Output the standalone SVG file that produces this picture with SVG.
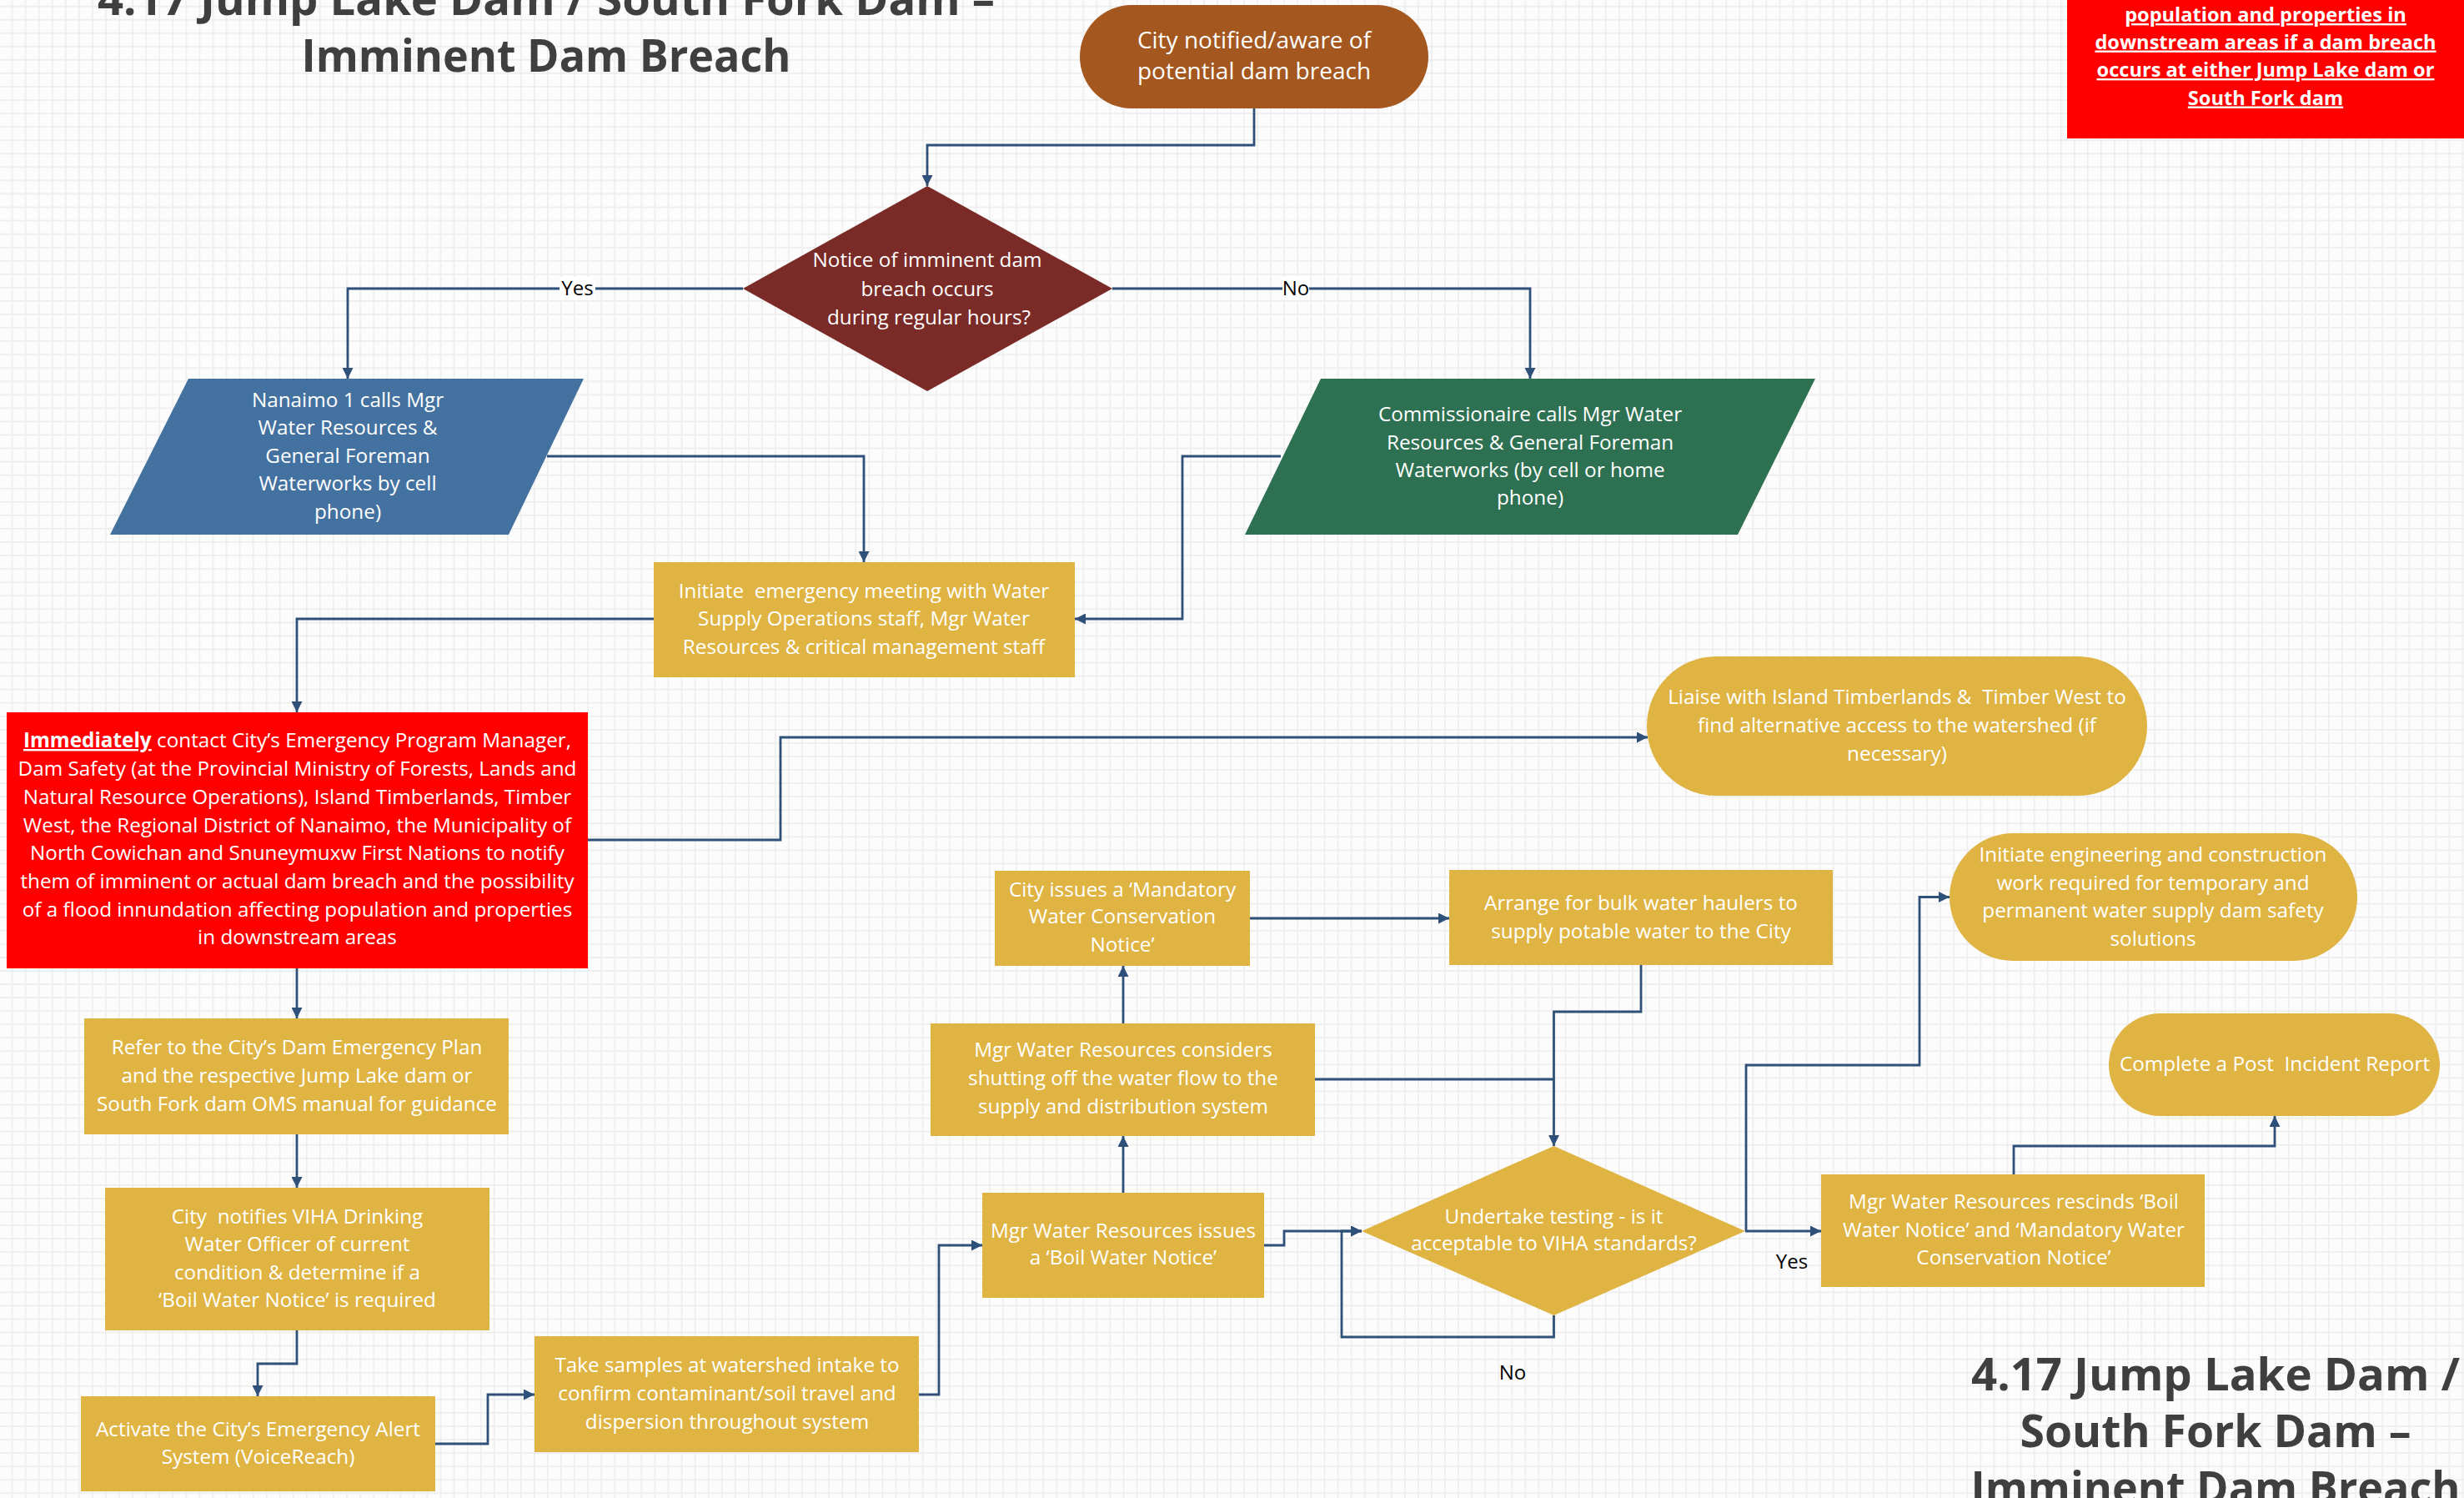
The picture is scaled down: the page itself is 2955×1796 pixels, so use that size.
<svg xmlns="http://www.w3.org/2000/svg" width="2955" height="1796" viewBox="0 0 2955 1796">
<style>
.t{font-family:"Open Sans","Noto Sans",sans-serif;font-size:24.3px;fill:#ffffff;text-anchor:middle;white-space:pre}
.big{font-size:28px}
.title{font-family:"Open Sans","Noto Sans",sans-serif;font-size:54px;font-weight:bold;fill:#3f3f3f;text-anchor:middle}
.warn{font-family:"Open Sans","Noto Sans",sans-serif;font-size:23.6px;font-weight:bold;fill:#ffffff;text-anchor:middle;text-decoration:underline}
.lbl{font-family:"Open Sans","Noto Sans",sans-serif;font-size:24px;fill:#000000;text-anchor:middle}
.gold{fill:#DFB443}
.red{fill:#FF0000}
.c{fill:none;stroke:#2F5078;stroke-width:2.8}
.ca{fill:none;stroke:#2F5078;stroke-width:2.8;marker-end:url(#arr)}
</style>
<defs>
<pattern id="grid" width="16.06" height="16.06" patternUnits="userSpaceOnUse" x="13.7" y="6.7">
<path d="M0,0.75 H16.06 M0.75,0 V16.06" fill="none" stroke="#ededed" stroke-width="1.6"/>
</pattern>
<marker id="arr" viewBox="0 0 13 13" markerWidth="13" markerHeight="13" refX="13" refY="6.5" orient="auto" markerUnits="userSpaceOnUse">
<path d="M0,0 L13,6.5 L0,13 z" fill="#2F5078"/>
</marker>
</defs>
<rect width="2955" height="1796" fill="#fcfcfc"/>
<rect width="2955" height="1796" fill="url(#grid)"/>

<g id="title-top">
<text class="title" x="655" y="18" textLength="1076" lengthAdjust="spacingAndGlyphs">4.17 Jump Lake Dam / South Fork Dam –</text>
<text class="title" x="655" y="86" textLength="587" lengthAdjust="spacingAndGlyphs">Imminent Dam Breach</text>
</g>
<g id="title-bottom">
<text class="title" x="2657" y="1667" textLength="586" lengthAdjust="spacingAndGlyphs">4.17 Jump Lake Dam /</text>
<text class="title" x="2657" y="1735" textLength="469" lengthAdjust="spacingAndGlyphs">South Fork Dam –</text>
<text class="title" x="2657" y="1803" textLength="587" lengthAdjust="spacingAndGlyphs">Imminent Dam Breach</text>
</g>

<g id="warning-box">
<rect x="2479" y="-2" width="480" height="168" class="red"/>
<text class="warn" x="2717" y="26">population and properties in</text>
<text class="warn" x="2717" y="58.5">downstream areas if a dam breach</text>
<text class="warn" x="2717" y="92">occurs at either Jump Lake dam or</text>
<text class="warn" x="2717" y="125.5">South Fork dam</text>
</g>

<g id="connectors">
<path class="ca" d="M1504,130 V174 H1112 V223"/>
<path class="ca" d="M891,346 H417 V454"/>
<path class="ca" d="M1334,346 H1835 V454"/>
<path class="ca" d="M656,547 H1036 V674"/>
<path class="ca" d="M1536,547 H1418 V742 H1289"/>
<path class="ca" d="M784,742 H356 V854"/>
<path class="ca" d="M705,1007 H936 V884 H1976"/>
<path class="ca" d="M356,1161 V1221"/>
<path class="ca" d="M356,1360 V1424"/>
<path class="ca" d="M356,1595 V1635 H309 V1674"/>
<path class="ca" d="M522,1731 H585 V1672 H641"/>
<path class="ca" d="M1102,1672 H1126 V1493 H1178"/>
<path class="ca" d="M1347,1430 V1362"/>
<path class="ca" d="M1347,1227 V1158"/>
<path class="ca" d="M1499,1101 H1738"/>
<path class="ca" d="M1968,1157 V1213 H1863.5 V1374"/>
<path class="c" d="M1577,1294 H1863.5"/>
<path class="ca" d="M1516,1493 H1540 V1476 H1633"/>
<path class="ca" d="M1863.5,1577 V1603 H1609 V1476 H1633"/>
<path class="ca" d="M2093,1476 H2184"/>
<path class="ca" d="M2094,1476 V1277 H2302 V1075.5 H2338"/>
<path class="ca" d="M2415,1408 V1374 H2728 V1338"/>
<rect x="671" y="332" width="43" height="28" fill="#ffffff"/>
<text class="lbl" x="692.5" y="354">Yes</text>
<rect x="1538" y="332" width="32" height="28" fill="#ffffff"/>
<text class="lbl" x="1554" y="354">No</text>
<text class="lbl" x="1814" y="1654">No</text>
<text class="lbl" x="2149" y="1521">Yes</text>
</g>

<g id="start">
<rect x="1295" y="6" width="418" height="124" rx="62" ry="62" fill="#A4571E"/>
<text class="t big" x="1504" y="58">City notified/aware of</text>
<text class="t big" x="1504" y="95">potential dam breach</text>
</g>

<g id="decision-hours">
<polygon points="1112,223 1334,346 1112,469 891,346" fill="#7B2B27"/>
<text class="t" x="1112" y="320">Notice of imminent dam</text>
<text class="t" x="1112" y="354.5">breach occurs</text>
<text class="t" x="1114" y="388.5">during regular hours?</text>
</g>

<g id="nanaimo">
<polygon points="226,454 700,454 610,641 132,641" fill="#4472A0"/>
<text class="t" x="417" y="487.5">Nanaimo 1 calls Mgr</text>
<text class="t" x="417" y="521">Water Resources &amp;</text>
<text class="t" x="417" y="554.5">General Foreman</text>
<text class="t" x="417" y="588">Waterworks by cell</text>
<text class="t" x="417" y="621.5">phone)</text>
</g>

<g id="commissionaire">
<polygon points="1584,454 2177,454 2084,641 1493,641" fill="#2E7052"/>
<text class="t" x="1835" y="505">Commissionaire calls Mgr Water</text>
<text class="t" x="1835" y="538.5">Resources &amp; General Foreman</text>
<text class="t" x="1835" y="571.5">Waterworks (by cell or home</text>
<text class="t" x="1835" y="605">phone)</text>
</g>

<g id="meeting">
<rect x="784" y="674" width="505" height="138" class="gold"/>
<text class="t" x="1036" y="716.5">Initiate  emergency meeting with Water</text>
<text class="t" x="1036" y="750">Supply Operations staff, Mgr Water</text>
<text class="t" x="1036" y="783.5">Resources &amp; critical management staff</text>
</g>

<g id="contact">
<rect x="8" y="854" width="697" height="307" class="red"/>
<text class="t" x="356.5" y="896"><tspan font-weight="bold" text-decoration="underline">Immediately</tspan> contact City’s Emergency Program Manager,</text>
<text class="t" x="356.5" y="930">Dam Safety (at the Provincial Ministry of Forests, Lands and</text>
<text class="t" x="356.5" y="963.5">Natural Resource Operations), Island Timberlands, Timber</text>
<text class="t" x="356.5" y="997.5">West, the Regional District of Nanaimo, the Municipality of</text>
<text class="t" x="356.5" y="1031">North Cowichan and Snuneymuxw First Nations to notify</text>
<text class="t" x="356.5" y="1065">them of imminent or actual dam breach and the possibility</text>
<text class="t" x="356.5" y="1098.5">of a flood innundation affecting population and properties</text>
<text class="t" x="356.5" y="1132">in downstream areas</text>
</g>

<g id="refer">
<rect x="101" y="1221" width="509" height="139" class="gold"/>
<text class="t" x="356" y="1263.5">Refer to the City’s Dam Emergency Plan</text>
<text class="t" x="356" y="1297.5">and the respective Jump Lake dam or</text>
<text class="t" x="356" y="1331.5">South Fork dam OMS manual for guidance</text>
</g>

<g id="viha">
<rect x="126" y="1424" width="461" height="171" class="gold"/>
<text class="t" x="356.5" y="1466.5">City  notifies VIHA Drinking</text>
<text class="t" x="356.5" y="1500">Water Officer of current</text>
<text class="t" x="356.5" y="1533.5">condition &amp; determine if a</text>
<text class="t" x="356.5" y="1567">‘Boil Water Notice’ is required</text>
</g>

<g id="activate">
<rect x="97" y="1674" width="425" height="114" class="gold"/>
<text class="t" x="309.5" y="1721.5">Activate the City’s Emergency Alert</text>
<text class="t" x="309.5" y="1755">System (VoiceReach)</text>
</g>

<g id="samples">
<rect x="641" y="1602" width="461" height="139" class="gold"/>
<text class="t" x="872" y="1645">Take samples at watershed intake to</text>
<text class="t" x="872" y="1679">confirm contaminant/soil travel and</text>
<text class="t" x="872" y="1713">dispersion throughout system</text>
</g>

<g id="boil-notice">
<rect x="1178" y="1430" width="338" height="126" class="gold"/>
<text class="t" x="1347" y="1483.5">Mgr Water Resources issues</text>
<text class="t" x="1347" y="1516">a ‘Boil Water Notice’</text>
</g>

<g id="shutoff">
<rect x="1116" y="1227" width="461" height="135" class="gold"/>
<text class="t" x="1347" y="1267">Mgr Water Resources considers</text>
<text class="t" x="1347" y="1301">shutting off the water flow to the</text>
<text class="t" x="1347" y="1335">supply and distribution system</text>
</g>

<g id="conservation">
<rect x="1193" y="1044" width="306" height="114" class="gold"/>
<text class="t" x="1346" y="1074.5">City issues a ‘Mandatory</text>
<text class="t" x="1346" y="1107">Water Conservation</text>
<text class="t" x="1346" y="1140.5">Notice’</text>
</g>

<g id="haulers">
<rect x="1738" y="1043" width="460" height="114" class="gold"/>
<text class="t" x="1968" y="1091">Arrange for bulk water haulers to</text>
<text class="t" x="1968" y="1125">supply potable water to the City</text>
</g>

<g id="decision-testing">
<polygon points="1863.5,1374 2093,1476 1863.5,1577 1633,1476" class="gold"/>
<text class="t" x="1863.5" y="1466.5">Undertake testing - is it</text>
<text class="t" x="1863.5" y="1499">acceptable to VIHA standards?</text>
</g>

<g id="liaise">
<rect x="1975" y="787" width="600" height="167" rx="83.5" ry="83.5" class="gold"/>
<text class="t" x="2275" y="843.5">Liaise with Island Timberlands &amp;  Timber West to</text>
<text class="t" x="2275" y="878">find alternative access to the watershed (if</text>
<text class="t" x="2275" y="912">necessary)</text>
</g>

<g id="engineering">
<rect x="2338" y="999" width="489" height="153" rx="76.5" ry="76.5" class="gold"/>
<text class="t" x="2582" y="1033">Initiate engineering and construction</text>
<text class="t" x="2582" y="1066.5">work required for temporary and</text>
<text class="t" x="2582" y="1100">permanent water supply dam safety</text>
<text class="t" x="2582" y="1134">solutions</text>
</g>

<g id="report">
<rect x="2529" y="1215" width="397" height="123" rx="61.5" ry="61.5" class="gold"/>
<text class="t" x="2728" y="1284">Complete a Post  Incident Report</text>
</g>

<g id="rescind">
<rect x="2184" y="1408" width="460" height="135" class="gold"/>
<text class="t" x="2415" y="1449">Mgr Water Resources rescinds ‘Boil</text>
<text class="t" x="2415" y="1482.5">Water Notice’ and ‘Mandatory Water</text>
<text class="t" x="2415" y="1516">Conservation Notice’</text>
</g>
</svg>
